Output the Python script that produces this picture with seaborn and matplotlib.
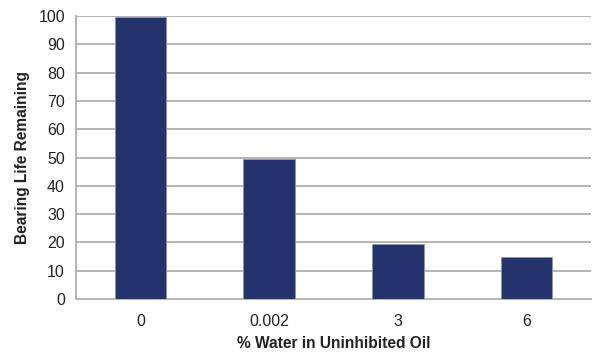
import matplotlib
matplotlib.use("Agg")
import matplotlib.pyplot as plt
import seaborn as sns
import pandas as pd

categories = ["0", "0.002", "3", "6"]
life_remaining = [99.5, 49.5, 19.5, 15]
y_ticks = list(range(0, 101, 10))

sns.set_style("white")
plt.rcParams["font.family"] = ["Liberation Sans", "DejaVu Sans"]

df = pd.DataFrame({"water": categories, "life": life_remaining})

fig = plt.figure(figsize=(5.93, 3.54), dpi=100)
ax = fig.add_axes([76 / 593, 1 - 299 / 354, (591 - 76) / 593, (299 - 16) / 354])

sns.barplot(data=df, x="water", y="life", color="#24336b", width=0.4,
            edgecolor="#8e96b8", linewidth=0.6, saturation=1, ax=ax, zorder=3)

ax.set_ylim(0, 100)
ax.set_xlim(-0.5, 3.5)
ax.set_yticks(y_ticks)
ax.yaxis.grid(True, color="#b4b4b4", linewidth=1.4, zorder=0)
ax.set_axisbelow(True)

for s in ["top", "right"]:
    ax.spines[s].set_visible(False)
for s in ["left", "bottom"]:
    ax.spines[s].set_color("#b4b4b4")
    ax.spines[s].set_linewidth(1.4)

# category boundary ticks on x, label ticks hidden
ax.set_xticks([0, 1, 2, 3])
ax.set_xticklabels(categories)
ax.tick_params(axis="x", length=0, pad=11, labelsize=11.5, colors="#222222")
ax.set_xticks([-0.5, 0.5, 1.5, 2.5, 3.5], minor=True)
ax.tick_params(axis="x", which="minor", length=5, width=1.4, color="#b4b4b4", direction="out")
ax.tick_params(axis="y", length=5, width=1.4, color="#b4b4b4", labelsize=11.5,
               labelcolor="#222222", pad=3)

ax.set_xlabel("% Water in Uninhibited Oil", fontsize=11.2, fontweight="bold",
              color="#222222", labelpad=5)
ax.set_ylabel("Bearing Life Remaining", fontsize=11.2, fontweight="bold",
              color="#222222")
ax.yaxis.set_label_coords(-0.09, 0.5)

fig.savefig("out.png", dpi=100)
